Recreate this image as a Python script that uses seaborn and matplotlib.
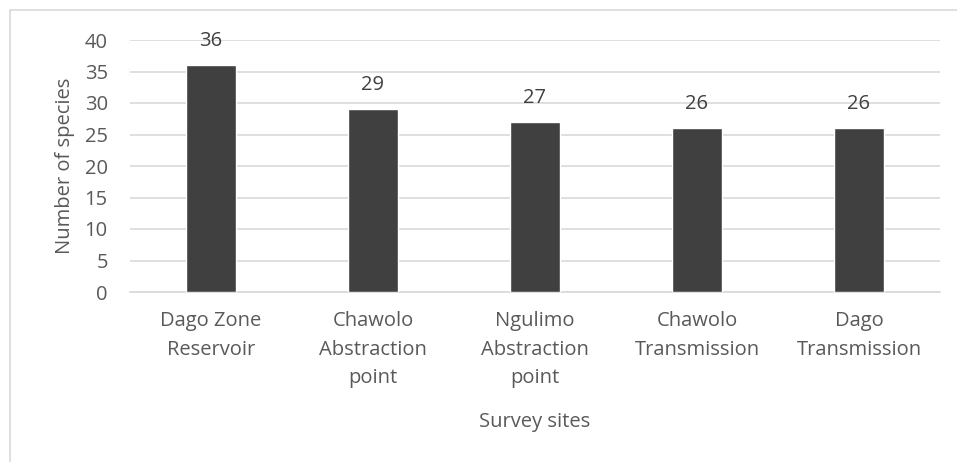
import matplotlib
matplotlib.use("Agg")
import matplotlib.pyplot as plt
import seaborn as sns
import pandas as pd
from matplotlib.lines import Line2D

sites = ["Dago Zone\nReservoir", "Chawolo\nAbstraction\npoint", "Ngulimo\nAbstraction\npoint",
         "Chawolo\nTransmission", "Dago\nTransmission"]
species = [36, 29, 27, 26, 26]
yticks = [0, 5, 10, 15, 20, 25, 30, 35, 40]

sns.set_style("white")
plt.rcParams['font.family'] = ['Open Sans', 'DejaVu Sans']

df = pd.DataFrame({"site": sites, "n": species})

fig = plt.figure(figsize=(9.57, 4.62), dpi=100)
W, H = 957, 462
ax = fig.add_axes([130 / W, 1 - 292 / H, (940 - 130) / W, (292 - 40) / H])

sns.barplot(data=df, x="site", y="n", color="#404040", width=0.31, saturation=1, ax=ax, zorder=3)

ax.set_ylim(0, 40)
ax.set_yticks(yticks)
ax.set_xlim(-0.5, len(sites) - 0.5)
ax.grid(axis="y", color="#d9d9d9", linewidth=1.2, zorder=0)
for s in ["top", "right", "left"]:
    ax.spines[s].set_visible(False)
ax.spines["bottom"].set_color("#d9d9d9")
ax.spines["bottom"].set_linewidth(1.2)
ax.tick_params(axis="both", length=0, labelsize=14.5, colors="#595959")
ax.tick_params(axis="y", pad=16)
ax.tick_params(axis="x", pad=14)
for lbl in ax.get_xticklabels():
    lbl.set_linespacing(1.55)

for i, v in enumerate(species):
    ax.text(i, v + 2.2, str(v), ha="center", va="bottom", fontsize=14.5, color="#404040")

ax.set_xlabel("Survey sites", fontsize=14.5, color="#595959", labelpad=17)
ax.set_ylabel("Number of species", fontsize=14.5, color="#595959", labelpad=7)

# outer chart-area border (top and left edges visible)
fig.add_artist(Line2D([10 / W, 1], [1 - 10 / H, 1 - 10 / H], transform=fig.transFigure, color="#d9d9d9", lw=1.2))
fig.add_artist(Line2D([10 / W, 10 / W], [0, 1 - 10 / H], transform=fig.transFigure, color="#d9d9d9", lw=1.2))

fig.savefig("out.png", dpi=100)
